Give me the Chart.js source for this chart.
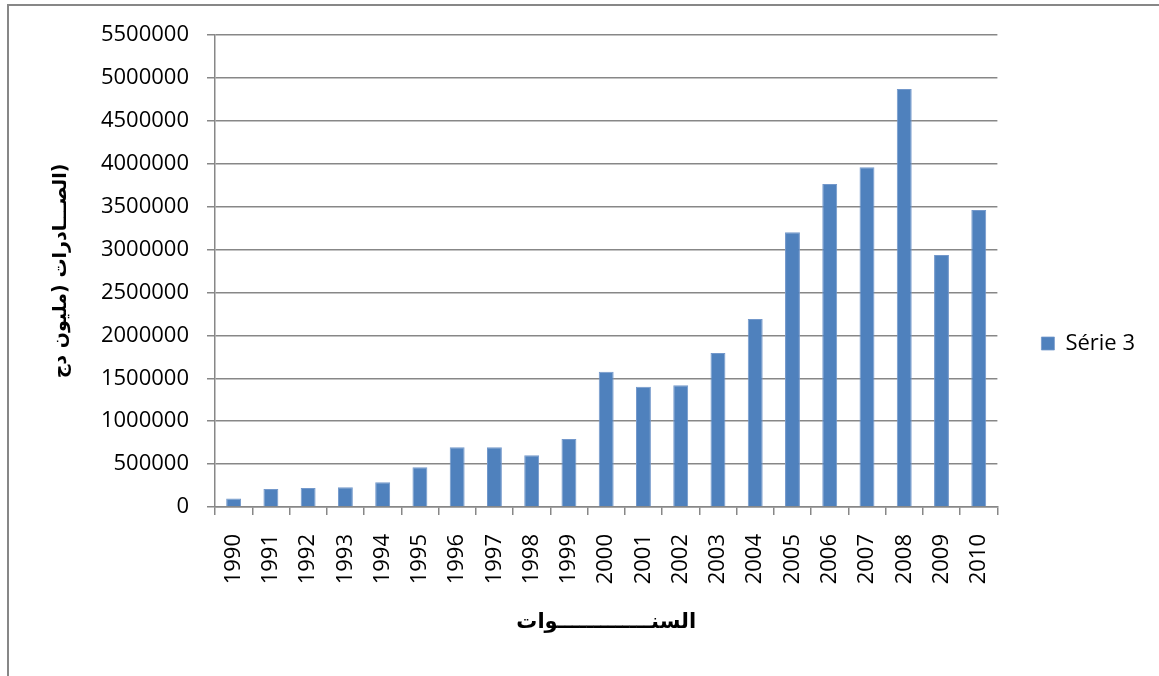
<!DOCTYPE html>
<html>
<head>
<meta charset="utf-8">
<script src="https://cdn.jsdelivr.net/npm/chart.js@4.4.1/dist/chart.umd.min.js"></script>
<style>
  html, body { margin: 0; padding: 0; background: #ffffff; }
  body { width: 1159px; height: 676px; position: relative; overflow: hidden; }
  #frame {
    position: absolute; left: 7px; top: 4px; width: 1300px; height: 800px;
    border-left: 2px solid #878787; border-top: 2px solid #878787;
  }
  #wrap { position: absolute; left: 0; top: 0; width: 1159px; height: 676px; }
</style>
</head>
<body>
<div id="frame"></div>
<div id="wrap"><canvas id="chart" width="1159" height="676"></canvas></div>
<script>
// Years on the category axis
const years = ['1990','1991','1992','1993','1994','1995','1996','1997','1998','1999',
               '2000','2001','2002','2003','2004','2005','2006','2007','2008','2009','2010'];

// Exports, million DZD
const exportsValues = [100000, 210000, 221000, 230000, 288000, 463000, 696000, 696000, 602000, 792000,
                       1577000, 1402000, 1418000, 1795000, 2191000, 3201000, 3765000, 3959000, 4872000, 2937000, 3462000];

const seriesLabel = 'Série 3';
// Value-axis title: two Arabic runs kept in a left-to-right sequence
const yTitleParts = ['مليون دج', 'الصـــادرات'];
const yTitle = '\u2066' + '\u2067' + yTitleParts[0] + '\u2069' + ') ' +
               '\u2067' + yTitleParts[1] + '\u2069' + ')' + '\u2069';
const xTitle = 'السنـــــــــــــوات';

const yMin = 0, yMax = 5500000, yStep = 500000;

const gridColor = '#878787';
const barColor = '#4F81BD';
const latin = '"Open Sans", "Liberation Sans", sans-serif';
const arabic = '"DejaVu Sans", sans-serif';

// Moves the legend block beside the plot
const legendShift = {
  id: 'legendShift',
  afterLayout(chart) {
    const lg = chart.legend;
    if (lg) { lg.top -= 12; lg.bottom -= 12; }
  },
  beforeDraw(chart) { chart.ctx.direction = 'ltr'; }
};

new Chart(document.getElementById('chart'), {
  type: 'bar',
  data: {
    labels: years,
    datasets: [{
      label: seriesLabel,
      data: exportsValues,
      backgroundColor: barColor,
      borderColor: '#7398cb',
      borderWidth: { top: 1, left: 1, right: 1, bottom: 0 },
      borderSkipped: 'start',
      barPercentage: 0.4,
      categoryPercentage: 1.0
    }]
  },
  options: {
    responsive: false,
    animation: false,
    events: [],
    layout: { padding: { top: 35, left: 0, bottom: 0, right: 14 } },
    plugins: {
      tooltip: { enabled: false },
      legend: {
        position: 'right',
        align: 'center',
        labels: {
          boxWidth: 13,
          boxHeight: 13,
          padding: 44,
          color: '#000000',
          font: { family: latin, size: 22 }
        }
      }
    },
    scales: {
      x: {
        offset: true,
        grid: {
          offset: true,
          drawOnChartArea: false,
          drawTicks: true,
          tickLength: 8,
          color: gridColor,
          lineWidth: 1.5
        },
        border: { display: true, color: gridColor, width: 1.5 },
        ticks: {
          autoSkip: false,
          minRotation: 90,
          maxRotation: 90,
          padding: 19,
          color: '#000000',
          font: { family: latin, size: 22 }
        },
        title: {
          display: true,
          text: xTitle,
          color: '#000000',
          font: { family: arabic, size: 21, weight: 'bold' },
          padding: { top: 0, bottom: 41 }
        },
        afterFit(scale) { scale.height = 169; }
      },
      y: {
        min: yMin,
        max: yMax,
        grid: {
          color: gridColor,
          lineWidth: 1.5,
          drawTicks: true,
          tickLength: 8
        },
        border: { display: true, color: gridColor, width: 1.5 },
        ticks: {
          stepSize: yStep,
          padding: 18,
          color: '#000000',
          font: { family: latin, size: 22 },
          callback: (v) => String(v)
        },
        title: {
          display: true,
          text: yTitle,
          color: '#000000',
          font: { family: arabic, size: 19, weight: 'bold' },
          padding: { top: 50, bottom: 0 }
        },
        afterFit(scale) { scale.width = 215; }
      }
    }
  },
  plugins: [legendShift]
});
</script>
</body>
</html>
